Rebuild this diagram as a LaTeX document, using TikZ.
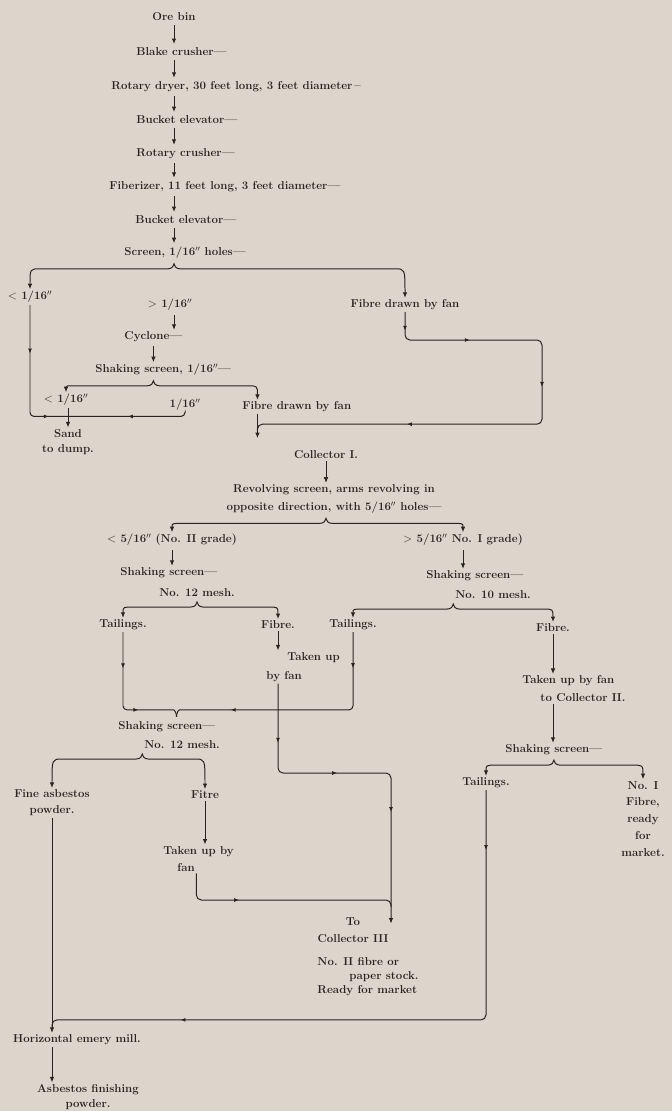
\documentclass[tikz,border=0pt]{standalone}
\usepackage{xcolor}
\usepackage{tikz}
\usetikzlibrary{calc, arrows.meta, decorations.markings}

\definecolor{giay}{RGB}{219,213,203}
\definecolor{muc}{RGB}{40,36,32}

\tikzset{
  nhan/.style={font=\fontsize{11.5}{#1}\selectfont\bfseries, text=muc, inner sep=1.5pt},
  nhan/.default=16,
  flow/.style={postaction={decorate, decoration={markings,
      mark=at position #1 with {\arrow{Latex[length=5pt,width=4pt]}}}}}
}

% ngoặc chia nhánh: #1 đỉnh, #2 nhánh trái, #3 nhánh phải
\newcommand{\chianhanh}[3]{%
  \coordinate (fc) at ($(#1)+(0,3)$);
  \coordinate (fl) at ($(fc)+(0,5)$);
  \draw[<->] (#2) .. controls (#2 |- fl) .. ($(#2 |- fl)+(10,0)$)
    -- ($(fl)+(-6,0)$) .. controls ($(fl)+(-2,0)$) and ($(fc)+(0,2)$) .. (fc)
    .. controls ($(fc)+(0,2)$) and ($(fl)+(2,0)$) .. ($(fl)+(6,0)$)
    -- ($(#3 |- fl)+(-10,0)$) .. controls (#3 |- fl) .. (#3);
}

\begin{document}
\begin{tikzpicture}[x=1bp, y=-1bp, >={Latex[length=5.5pt,width=4.5pt]}, line width=1pt, color=muc]
    \fill[giay] (0,0) rectangle (672,1111);
    \useasboundingbox (0,0) rectangle (672,1111);

    % Dây chuyền chính
    \node[nhan] (ore) at (174,17) {Ore bin};
    \node[nhan, anchor=west] (blake) at (134.5,52) {Blake crusher---};
    \node[nhan, anchor=west] (dryer) at (109.5,87) {Rotary dryer, 30 feet long, 3 feet diameter\,--};
    \node[nhan, anchor=west] (buck1) at (134.5,120) {Bucket elevator---};
    \node[nhan, anchor=west] (rcrush) at (134.5,154) {Rotary crusher---};
    \node[nhan, anchor=west] (fiber) at (107.5,187) {Fiberizer, 11 feet long, 3 feet diameter---};
    \node[nhan, anchor=west] (buck2) at (133.5,220) {Bucket elevator---};
    \node[nhan, anchor=west] (screen) at (122.5,253) {Screen, 1/16$''$ holes---};
    \foreach \a/\b in {ore/blake, blake/dryer, dryer/buck1, buck1/rcrush, rcrush/fiber, fiber/buck2, buck2/screen} {
        \draw[->, shorten <=2pt, shorten >=2pt] (\a.south -| ore) -- (\b.north -| ore);
    }

    % Sàng 1/16"
    \node[nhan] (lt1) at (30,297) {$<$ 1/16$''$};
    \node[nhan] (gt1) at (170,305) {$>$ 1/16$''$};
    \node[nhan] (fan1) at (405,305) {Fibre drawn by fan};
    \node[nhan, anchor=west] (cyc) at (122.5,337) {Cyclone---};
    \node[nhan, anchor=west] (shk1) at (93.5,370) {Shaking screen, 1/16$''$---};
    \node[nhan] (lt2) at (66,400) {$<$ 1/16$''$};
    \node[nhan] (eq2) at (185,405) {1/16$''$};
    \node[nhan, anchor=west] (fan2) at (240.5,407) {Fibre drawn by fan};
    \node[nhan=15, align=center] (sand) at (68,442) {Sand\\to dump.};
    \coordinate (f2) at ([xshift=17]fan2.north west);

    \chianhanh{screen.south -| ore}{lt1.north}{fan1.north}
    \draw[->, shorten <=2pt] (gt1.south -| ore) -- (cyc.north -| ore);
    \draw[->, shorten <=2pt] (cyc.south) -- (cyc.south |- shk1.north);
    \chianhanh{shk1.south -| cyc}{lt2.north}{f2}

    \coordinate (sandj) at ($(sand.north)+(0,-11)$);
    \draw[rounded corners=4, flow/.list={0.33,0.87}] (lt1.south) |- (sandj);
    \draw[rounded corners=4, flow=0.5] (eq2.south) |- (sandj);
    \draw[->] (lt2.south -| sand) -- (sand.north);

    \coordinate (rloop) at (542,340);
    \coordinate (fall) at ($(f2 |- fan2.south)+(0,24)$);
    \draw[->] (f2 |- fan2.south) -- (fall);
    \draw[rounded corners=5, flow/.list={0.035,0.17,0.39,0.71}] (fan1.south) |- (rloop) |- ($(fall)+(0,-14)$) -- ($(fall)+(0,-7)$);

    % Collector I
    \node[nhan] (col1) at (326,455) {Collector I.};
    \node[nhan=18, align=center] (rev) at (334,499) {Revolving screen, arms revolving in\\opposite direction, with 5/16$''$ holes---};
    \node[nhan] (lt3) at (172,540) {$<$ 5/16$''$ (No. II grade)};
    \node[nhan] (gt3) at (463,540) {$>$ 5/16$''$ No. I grade)};
    \node[nhan, anchor=west] (shk2) at (118.5,573) {Shaking screen---};
    \node[nhan] (mesh2) at (197,593) {No. 12 mesh.};
    \node[nhan, anchor=west] (shk3) at (424.5,576) {Shaking screen---};
    \node[nhan] (mesh3) at (493,595) {No. 10 mesh.};
    \node[nhan] (tl4) at (123,625) {Tailings.};
    \node[nhan] (fb4) at (278,625) {Fibre.};
    \node[nhan] (tl5) at (353,625) {Tailings.};
    \node[nhan] (fb5) at (553,628) {Fibre.};
    \node[nhan=19, anchor=west, align=left] (tak4) at (264.5,667) {\hspace*{21bp}Taken up\\by fan};

    \draw[->, line width=0.5pt] (col1.south) -- (col1.south |- rev.north);
    \chianhanh{rev.south -| col1}{lt3.north}{gt3.north}
    \draw[->, shorten <=2pt] (lt3.south) -- (lt3.south |- shk2.north);
    \draw[->, shorten <=2pt] (gt3.south) -- (gt3.south |- shk3.north);
    \chianhanh{mesh2.south}{tl4.north}{fb4.north}
    \chianhanh{mesh3.south west}{tl5.north}{fb5.north}
    \draw[->] (fb4.south) -- (fb4.south |- tak4.north);

    % Sàng No. 12 mesh
    \node[nhan, anchor=west] (shk4) at (116.5,727) {Shaking screen---};
    \node[nhan] (mesh4) at (182,745) {No. 12 mesh.};
    \node[nhan, align=center] (fap) at (52,803) {Fine asbestos\\powder.};
    \node[nhan] (fit) at (205,795) {Fitre};
    \node[nhan=17, anchor=west, align=left] (tub) at (161.5,859) {Taken up by\\\hspace*{14bp}fan};
    \node[nhan=17, align=center] (to3) at (353,930) {To\\Collector III};
    \node[nhan=14, anchor=west, align=left] (n2) at (315.5,977) {No. II fibre or\\\hspace*{32bp}paper stock.\\Ready for market};

    \coordinate (m4) at ($(shk4.north west)+(60,-3)$);
    \draw[rounded corners=4, flow/.list={0.27,0.68}] (tl4.south) |- ($(m4)+(-7,-7)$) .. controls ($(m4)+(-2,-7)$) and ($(m4)+(0,-4)$) .. (m4);
    \draw[rounded corners=4, flow/.list={0.14,0.77}] (tl5.south) |- ($(m4)+(7,-7)$) .. controls ($(m4)+(2,-7)$) and ($(m4)+(0,-4)$) .. (m4);
    \chianhanh{mesh4.south west}{fap.north}{fit.north}
    \draw[->] (fit.south) -- (fit.south |- tub.north);

    \coordinate (k4) at (391,773);
    \coordinate (k5) at (391,900);
    \draw[->, rounded corners=5, flow/.list={0.17,0.42,0.68}] (tak4.south -| fb4) |- (k4) -- ($(k5 |- to3.north)+(0,8)$);
    \draw[rounded corners=5, flow=0.3] ([xshift=35]tub.south west) |- (k5) -- ++(0,7);

    % Nhánh phải: Collector II
    \node[nhan=18, anchor=west, align=left] (tak5) at (520.5,689) {Taken up by fan\\\hspace*{18bp}to Collector II.};
    \node[nhan, anchor=west] (shk5) at (503.5,750) {Shaking screen---};
    \node[nhan] (tl7) at (486,783) {Tailings.};
    \node[nhan=17, align=center] (nf) at (643,819) {No. I\\Fibre,\\ready\\for\\market.};

    \draw[->] (fb5.south) -- (fb5.south |- tak5.north);
    \draw[->] (tak5.south -| fb5) -- (fb5 |- shk5.north);
    \chianhanh{shk5.south}{tl7.north}{nf.north}

    % Máy nghiền
    \node[nhan] (hem) at (77,1040) {Horizontal emery mill.};
    \node[nhan=15, align=center] (afp) at (88,1097) {Asbestos finishing\\powder.};
    \coordinate (hmin) at (fap.south |- hem.north);
    \draw[->] (fap.south) -- (hmin);
    \draw[rounded corners=5, flow/.list={0.09,0.8}] (tl7.south) |- ($(hmin)+(0,-13)$) -- ($(hmin)+(0,-6)$);
    \draw[->] (hem.south -| fap) -- (fap |- afp.north);
\end{tikzpicture}
\end{document}
